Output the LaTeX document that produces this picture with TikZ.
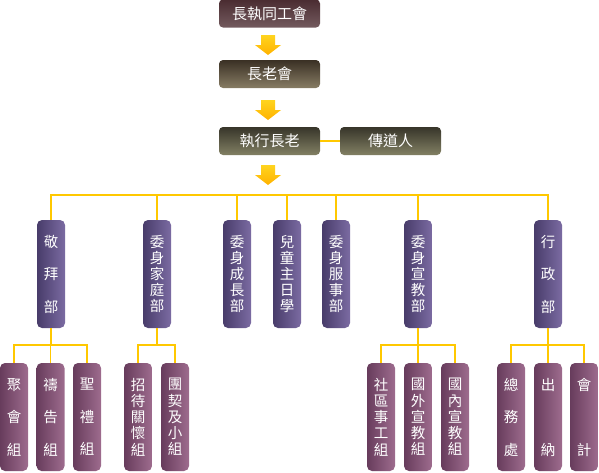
\documentclass[tikz,border=0pt]{standalone}
\usepackage{fontspec}
\newfontfamily\cjk{Noto Sans CJK TC}
\definecolor{lineY}{HTML}{FFC800}
\definecolor{arrT}{HTML}{FFD41E}
\definecolor{arrB}{HTML}{FFB200}
\definecolor{aT}{HTML}{4A2C31}
\definecolor{aB}{HTML}{735A5E}
\definecolor{bT}{HTML}{3A3024}
\definecolor{bB}{HTML}{877C64}
\definecolor{cT}{HTML}{37352A}
\definecolor{cB}{HTML}{828063}
\definecolor{dL}{HTML}{483C6A}
\definecolor{dR}{HTML}{7B6BA2}
\definecolor{eL}{HTML}{673C5C}
\definecolor{eR}{HTML}{9E6C8E}
\tikzset{
  topbox/.style={rectangle, rounded corners=4pt, minimum width=101pt, minimum height=28pt,
    inner sep=0pt, text=white, font=\cjk\fontsize{15}{18}\selectfont},
  colbox/.style={rectangle, rounded corners=5pt, minimum width=28pt, minimum height=108pt,
    inner sep=0pt, text=white, align=center},
  deptbox/.style={colbox, left color=dL, right color=dR},
  grpbox/.style={colbox, left color=eL, right color=eR},
  tight/.style={font=\cjk\fontsize{14.5}{16.2}\selectfont},
  spread3/.style={font=\cjk\fontsize{14.5}{32.5}\selectfont},
  spread2/.style={font=\cjk\fontsize{14.5}{65}\selectfont},
  conn/.style={draw=lineY, line width=1.2pt},
  yarrow/.pic={
    \shade[top color=arrT, bottom color=arrB]
      (-7,0) -- (7,0) -- (7,10) -- (13,10) -- (0,20) -- (-13,10) -- (-7,10) -- cycle;
  }
}
\begin{document}
\begin{tikzpicture}[x=1pt,y=-1pt]
\useasboundingbox (0,0) rectangle (599,472);
% top chain
\node[topbox, top color=aT, bottom color=aB] (t1) at (269.5,13.5) {長執同工會};
\node[topbox, top color=bT, bottom color=bB] (t2) at (269.5,74) {長老會};
\node[topbox, top color=cT, bottom color=cB] (t3) at (269.5,141) {執行長老};
\node[topbox, top color=cT, bottom color=cB] (t4) at (390.5,141) {傳道人};
\pic at (268,35) {yarrow};
\pic at (268,100) {yarrow};
\pic at (268,165) {yarrow};
\draw[conn] (t3.east) -- (t4.west);
% departments
\coordinate (bar) at (0,195);
\coordinate (bar2) at (0,345);
\node[deptbox, spread3] (jb) at (51,274) {敬\\拜\\部};
\node[deptbox, tight] (jt) at (157,274) {委\\身\\家\\庭\\部};
\node[deptbox, tight] (cz) at (237,274) {委\\身\\成\\長\\部};
\node[deptbox, tight] (et) at (287,274) {兒\\童\\主\\日\\學};
\node[deptbox, tight] (fs) at (336,274) {委\\身\\服\\事\\部};
\node[deptbox, tight] (xj) at (418,274) {委\\身\\宣\\教\\部};
\node[deptbox, spread3] (xz) at (548,274) {行\\政\\部};
\draw[conn] (jb.north) |- (xz.north |- bar) -- (xz.north);
\foreach \n in {jt,cz,et,fs,xj} { \draw[conn] (\n.north) -- (\n.north |- bar); }
% groups
\node[grpbox, spread3] (jh) at (14,417) {聚\\會\\組};
\node[grpbox, spread3] (dg) at (50.5,417) {禱\\告\\組};
\node[grpbox, spread3] (sl) at (87,417) {聖\\禮\\組};
\node[grpbox, tight] (zd) at (138,417) {招\\待\\關\\懷\\組};
\node[grpbox, tight] (tq) at (175,417) {團\\契\\及\\小\\組};
\node[grpbox, tight] (sq) at (381,417) {社\\區\\事\\工\\組};
\node[grpbox, tight] (gw) at (418,417) {國\\外\\宣\\教\\組};
\node[grpbox, tight] (gn) at (455,417) {國\\內\\宣\\教\\組};
\node[grpbox, spread3] (zw) at (511,417) {總\\務\\處};
\node[grpbox, spread2] (cn) at (548,417) {出\\納};
\node[grpbox, spread2] (kj) at (584,417) {會\\計};
% group connectors
\draw[conn] (jb.south) -- (jb.south |- bar2);
\draw[conn] (jh.north) |- (sl.north |- bar2) -- (sl.north);
\draw[conn] (dg.north) -- (dg.north |- bar2);
\draw[conn] (jt.south) -- (jt.south |- bar2);
\draw[conn] (zd.north) |- (tq.north |- bar2) -- (tq.north);
\draw[conn] (xj.south) -- (xj.south |- bar2);
\draw[conn] (sq.north) |- (gn.north |- bar2) -- (gn.north);
\draw[conn] (gw.north) -- (gw.north |- bar2);
\draw[conn] (xz.south) -- (xz.south |- bar2);
\draw[conn] (zw.north) |- (kj.north |- bar2) -- (kj.north);
\draw[conn] (cn.north) -- (cn.north |- bar2);
\end{tikzpicture}
\end{document}
